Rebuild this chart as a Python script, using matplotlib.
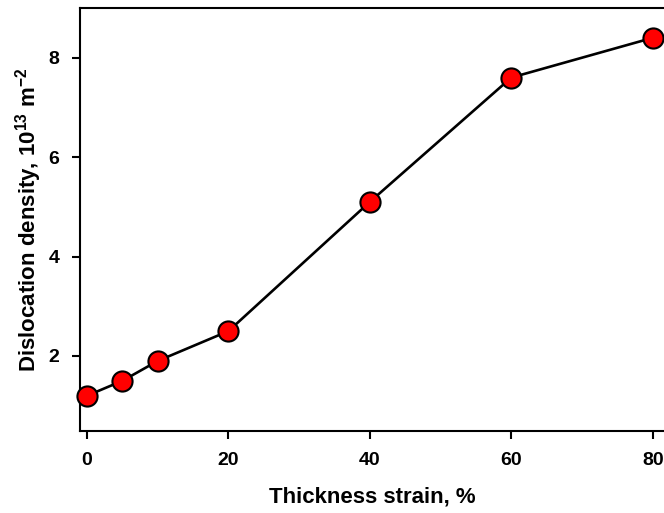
import matplotlib
matplotlib.use("Agg")
import matplotlib.pyplot as plt

strain = [0, 5, 10, 20, 40, 60, 80]
density = [1.2, 1.5, 1.9, 2.5, 5.1, 7.6, 8.4]
xticks = [0, 20, 40, 60, 80]
yticks = [2, 4, 6, 8]

plt.rcParams['font.family'] = ['Liberation Sans', 'DejaVu Sans']
plt.rcParams['mathtext.fontset'] = 'custom'
plt.rcParams['mathtext.bf'] = 'Liberation Sans:bold'
plt.rcParams['mathtext.rm'] = 'Liberation Sans:bold'
plt.rcParams['mathtext.default'] = 'bf'
fig = plt.figure(figsize=(6.64, 5.13), dpi=100)
ax = fig.add_axes([80/664, 1-431/513, 1-80/664, (431-8)/513])
ax.plot(strain, density, color='black', lw=1.9, marker='o', ms=14.5,
        mfc='#ff0000', mec='black', mew=1.5, zorder=3, clip_on=False)
ax.set_xlim(-1, 81.6)
ax.set_ylim(0.49, 9.0)
ax.set_xticks(xticks)
ax.set_yticks(yticks)
ax.spines['right'].set_visible(False)
for s in ['left', 'bottom', 'top']:
    ax.spines[s].set_linewidth(1.5)
ax.tick_params(direction='out', length=6, width=1.5, labelsize=14, pad=9)
for lab in ax.get_xticklabels() + ax.get_yticklabels():
    lab.set_fontweight('bold')
ax.set_xlabel('Thickness strain, %', fontsize=16, fontweight='bold', labelpad=13)
ax.set_ylabel(r'Dislocation density, 10$^{13}$ m$^{-2}$', fontsize=16, fontweight='bold', labelpad=3)
fig.savefig('out.png', dpi=100)
